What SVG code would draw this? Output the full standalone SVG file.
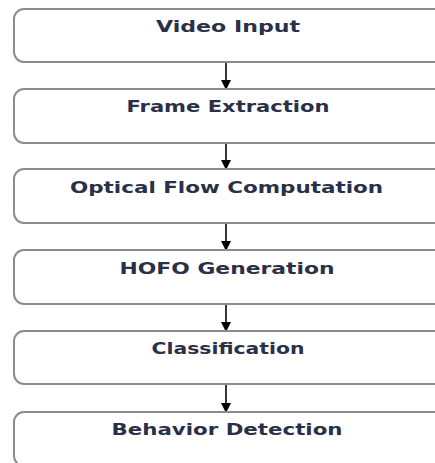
<svg xmlns="http://www.w3.org/2000/svg" width="435" height="463" viewBox="0 0 435 463">
  <defs>
    <style>
      .box { fill: #ffffff; stroke: #8c8c8c; stroke-width: 2; }
      .label { font-family: "DejaVu Sans", Verdana, sans-serif; font-size: 15.5px; font-weight: bold; fill: #2a3048; text-anchor: middle; }
      .link { stroke: #000000; stroke-width: 1.6; fill: none; marker-end: url(#head); }
    </style>
    <marker id="head" viewBox="0 0 10 10" refX="9" refY="5" markerWidth="10" markerHeight="11" markerUnits="userSpaceOnUse" orient="auto">
      <path d="M0,0 L10,5 L0,10 Z" fill="#000000"/>
    </marker>
  </defs>
  <rect width="435" height="463" fill="#ffffff"/>

  <g id="connectors">
    <line class="link" x1="226" y1="62" x2="226" y2="89"/>
    <line class="link" x1="226" y1="143" x2="226" y2="169"/>
    <line class="link" x1="226" y1="223" x2="226" y2="250"/>
    <line class="link" x1="226" y1="304" x2="226" y2="331"/>
    <line class="link" x1="226" y1="384" x2="226" y2="412"/>
  </g>

  <g id="video-input">
    <rect class="box" x="14" y="9" width="440" height="53" rx="10"/>
    <text class="label" x="228" y="32" textLength="144" lengthAdjust="spacingAndGlyphs">Video Input</text>
  </g>
  <g id="frame-extraction">
    <rect class="box" x="14" y="89" width="440" height="54" rx="10"/>
    <text class="label" x="228" y="112" textLength="203" lengthAdjust="spacingAndGlyphs">Frame Extraction</text>
  </g>
  <g id="optical-flow">
    <rect class="box" x="14" y="169" width="440" height="54" rx="10"/>
    <text class="label" x="226.5" y="193" textLength="313" lengthAdjust="spacingAndGlyphs">Optical Flow Computation</text>
  </g>
  <g id="hofo-generation">
    <rect class="box" x="14" y="250" width="440" height="54" rx="10"/>
    <text class="label" x="227" y="274" textLength="215" lengthAdjust="spacingAndGlyphs">HOFO Generation</text>
  </g>
  <g id="classification">
    <rect class="box" x="14" y="331" width="440" height="53" rx="10"/>
    <text class="label" x="228" y="354" textLength="153" lengthAdjust="spacingAndGlyphs">Classification</text>
  </g>
  <g id="behavior-detection">
    <rect class="box" x="14" y="412" width="440" height="54" rx="10"/>
    <text class="label" x="227" y="435" textLength="231" lengthAdjust="spacingAndGlyphs">Behavior Detection</text>
  </g>
</svg>
